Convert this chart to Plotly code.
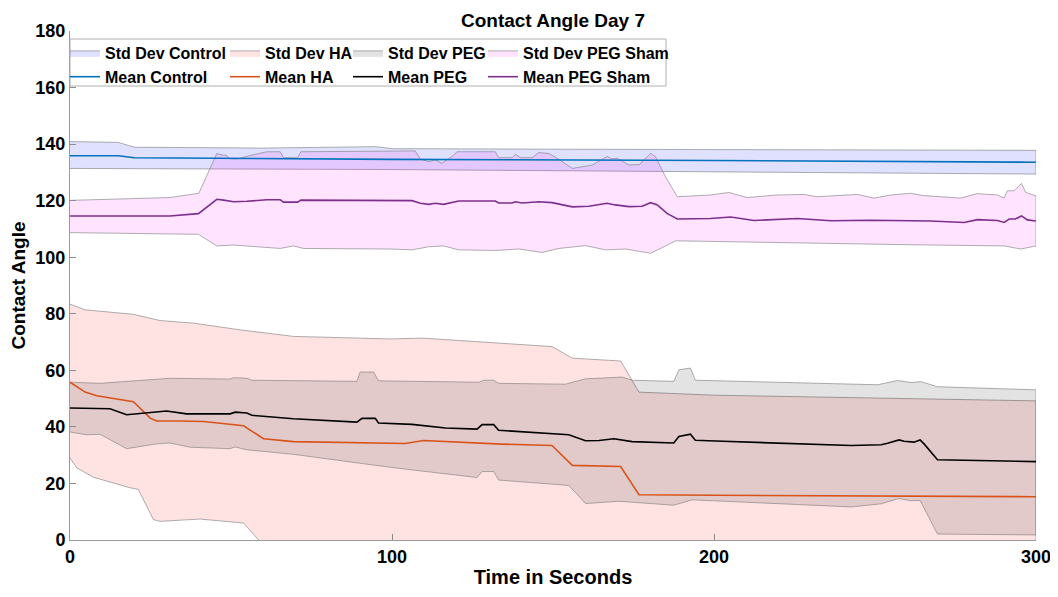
import plotly.graph_objects as go

# ---------------- data ----------------
ctrl_mean_t = [0, 15, 20, 100, 200, 300]
ctrl_mean_v = [135.9, 135.9, 135.2, 134.6, 134.2, 133.6]
ctrl_up_t = [0, 15, 20, 60, 95, 100, 150, 200, 250, 300]
ctrl_up_v = [140.9, 140.6, 138.9, 138.6, 139.1, 138.4, 138.2, 138.0, 137.9, 137.8]
ctrl_lo_t = [0, 100, 150, 200, 250, 300]
ctrl_lo_v = [131.4, 131.0, 130.7, 130.3, 129.8, 129.4]

ha_up_t = [0, 4.7, 19.7, 24.9, 28, 38.3, 52.9, 69.4, 99.5, 109.3, 149.7, 156, 171, 176.7, 200.5, 300]
ha_up_v = [83.4, 81.4, 79.8, 78.4, 77.6, 76.7, 74.3, 72.0, 71.1, 71.4, 68.4, 64.3, 63.3, 52.3, 51.2, 49.2]
ha_mean_t = [0, 4.7, 8.3, 19.7, 24.9, 26.9, 34.2, 41.5, 53.9, 60.1, 69.4, 99.5, 104.1, 109.8,
             134.1, 149.7, 156, 171, 176.7, 200.5, 300]
ha_mean_v = [55.8, 52.3, 51.0, 48.9, 43.1, 42.1, 42.1, 41.9, 40.4, 35.8, 34.8, 34.4, 34.1, 35.2,
             33.9, 33.4, 26.4, 26.0, 16.0, 15.8, 15.3]
ha_lo_t = [0, 2.1, 7.3, 18.6, 21.2, 25.9, 28, 40.4, 53.9, 60.1, 99.5, 149.7, 156, 171, 176.7, 300]
ha_lo_v = [29.0, 25.5, 22.2, 18.5, 17.9, 7.2, 6.6, 7.4, 6.0, -1.9, -2.3, -1.6, -11.5, -11.3, -20.5, -18.6]

peg_up_t = [0, 9.3, 31.1, 49.7, 50.8, 54.9, 56.5, 89.1, 90.1, 94.3, 95.8, 126.9, 128.5, 131.6,
            133.1, 153.8, 160.1, 171.5, 174.6, 187.5, 189.1, 192.7, 194.2, 200.5, 250.8, 252.9,
            257, 261.1, 264.2, 269.4, 300]
peg_up_v = [55.8, 55.4, 57.2, 56.9, 57.4, 57.2, 56.5, 56.1, 59.4, 59.4, 56.3, 55.8, 56.5, 56.5,
            55.4, 55.1, 57.0, 57.6, 56.5, 56.1, 60.2, 60.8, 56.5, 56.3, 54.9, 55.4,
            56.4, 55.7, 56.0, 54.2, 53.1]
peg_mean_t = [0, 12.4, 17.6, 30, 36.2, 49.7, 51.3, 54.9, 56.5, 69.4, 89.1, 90.7, 94.8, 95.8,
              106.2, 116.6, 126.4, 128, 131.6, 133.1, 154.9, 160.1, 164.3, 168.9, 174.6, 187.5,
              189.1, 192.7, 194.2, 200.5, 242.6, 251.9, 253.9, 257.5, 259, 262.1, 264, 265.3,
              269.4, 300]
peg_mean_v = [46.7, 46.4, 44.3, 45.6, 44.6, 44.6, 45.2, 44.9, 44.1, 42.9, 41.7, 43.0, 43.0, 41.4,
              40.9, 39.6, 39.2, 40.8, 40.8, 38.8, 37.2, 35.1, 35.2, 35.8, 34.8, 34.3,
              36.6, 37.4, 35.3, 35.0, 33.4, 33.7, 34.2, 35.4, 34.9, 34.6, 35.4, 33.9,
              28.4, 27.7]
peg_lo_t = [0, 5.2, 9.3, 17.6, 26.9, 31.1, 37.3, 49.7, 51.3, 54.9, 69.4, 99.5, 126.4, 128, 131.6,
            133.1, 154.9, 160.1, 170.5, 187.5, 193.2, 200.5, 242.6, 251.9, 257.5, 261.1, 264,
            269.4, 300]
peg_lo_v = [38.2, 37.2, 37.4, 32.3, 34.0, 34.3, 32.8, 32.3, 32.9, 31.9, 30.3, 25.7, 22.1, 24.2, 24.2,
            21.2, 19.3, 12.9, 13.7, 12.3, 14.2, 13.7, 11.7, 12.8, 14.7, 13.9, 14.0,
            2.1, 1.8]

sham_up_t = [0, 31, 40, 45.6, 47, 48.5, 49.7, 52.3, 54.9, 61.1, 65.3, 66.3, 70.7, 71.7, 107.2, 108.8,
             111.4, 113.5, 115.5, 118.6, 120.2, 132.1, 133.1, 137.3, 138.3, 139.9, 143.5, 145.6,
             148.7, 151.3, 156.0, 159.0, 162.2, 166.8, 168.3, 170, 173.6, 176.8, 180.3, 181.8,
             184.9, 188.6, 198.9, 204.6, 210.3, 219.6, 227.9, 232, 244.5, 249.7, 254.9, 261.1,
             265, 276.6, 281.8, 288, 290.1, 291.1, 293.2, 295.5, 296.8, 300]
sham_up_v = [120.1, 121.1, 122.6, 136.7, 136.2, 136.0, 134.8, 134.8, 135.7, 137.3, 137.3, 135.2, 135.2,
             137.3, 137.6, 134.7, 133.8, 134.4, 133.2, 135.6, 137.3, 137.3, 135.2, 135.2, 136.4,
             135.2, 135.2, 137.0, 136.7, 135.0, 131.4, 132.0, 132.6, 135.6, 134.8, 135.0, 132.6,
             132.8, 136.7, 135.6, 128.5, 121.4, 122.0, 122.9, 121.1, 122.0, 122.2, 121.4, 122.2,
             120.9, 122.0, 122.6, 121.8, 120.9, 122.5, 122.0, 120.9, 123.5, 123.5, 126.1, 122.9,
             121.7]
sham_mean_t = [0, 31, 39.9, 45.6, 47.7, 50.8, 54.9, 61.1, 65.3, 66.3, 70.7, 71.7, 106.2, 108.8,
               111.4, 113.5, 116, 120.7, 132.1, 133.1, 137.3, 138.3, 140.4, 145.6, 149.7, 156.0,
               161.1, 166.8, 169.3, 173.6, 177.7, 180.3, 182.4, 185.4, 188.6, 198.9, 205.2, 212.4,
               225.9, 236.3, 248.7, 261.1, 267.3, 277.7, 281.8, 288, 290.1, 291.7, 293.6, 295.5,
               297.3, 300]
sham_mean_v = [114.6, 114.6, 115.4, 120.5, 120.2, 119.6, 119.8, 120.3, 120.3, 119.5, 119.5, 120.2,
               120.0, 119.1, 118.7, 119.1, 118.7, 119.9, 119.9, 119.2, 119.2, 119.6, 119.2, 119.6,
               119.3, 117.8, 118.0, 119.1, 118.5, 117.9, 118.0, 119.3, 118.5, 115.5, 113.5, 113.7,
               114.2, 113.0, 113.7, 112.9, 113.1, 113.0, 112.8, 112.3, 113.3, 113.0, 112.3, 113.5,
               113.5, 114.6, 113.2, 112.8]
sham_lo_t = [0, 39.9, 45.6, 50.8, 59.1, 65.3, 69.4, 72.5, 99.5, 106.2, 111.4, 116, 120.7, 132.1,
             139.5, 146.6, 151.8, 160.1, 166.3, 172.5, 180.3, 183.9, 188.1, 200.5, 230, 261.1,
             290.1, 295.3, 300]
sham_lo_v = [108.7, 108.1, 104.0, 104.3, 103.7, 103.1, 104.0, 103.1, 102.9, 102.6, 103.7, 104.0,
             102.6, 102.4, 102.9, 101.7, 103.1, 104.1, 102.6, 102.9, 101.4, 103.4, 105.8, 105.8,
             105.0, 104.4, 104.0, 102.9, 104.0]

x_ticks = [0, 100, 200, 300]
y_ticks = [0, 20, 40, 60, 80, 100, 120, 140, 160, 180]

FONT = "Liberation Sans, Arial, Helvetica, sans-serif"
EDGE = "rgba(120,120,120,0.75)"

bands = [
    ("Std Dev Control", ctrl_up_t, ctrl_up_v, ctrl_lo_t, ctrl_lo_v, "rgba(0,0,255,0.12)", "legend"),
    ("Std Dev HA", ha_up_t, ha_up_v, ha_lo_t, ha_lo_v, "rgba(255,0,0,0.11)", "legend2"),
    ("Std Dev PEG", peg_up_t, peg_up_v, peg_lo_t, peg_lo_v, "rgba(0,0,0,0.11)", "legend3"),
    ("Std Dev PEG Sham", sham_up_t, sham_up_v, sham_lo_t, sham_lo_v, "rgba(255,0,255,0.11)", "legend4"),
]
means = [
    ("Mean Control", ctrl_mean_t, ctrl_mean_v, "#0072BD", "legend"),
    ("Mean HA", ha_mean_t, ha_mean_v, "#D95319", "legend2"),
    ("Mean PEG", peg_mean_t, peg_mean_v, "#000000", "legend3"),
    ("Mean PEG Sham", sham_mean_t, sham_mean_v, "#7E2F8E", "legend4"),
]

fig = go.Figure()
for name, ut, uv, lt, lv, col, lg in bands:
    fig.add_trace(go.Scatter(
        x=list(ut) + list(lt)[::-1], y=list(uv) + list(lv)[::-1],
        mode="lines", fill="toself", fillcolor=col,
        line=dict(color=EDGE, width=0.8), name=name, legend=lg, hoverinfo="skip"))
for name, t, v, col, lg in means:
    fig.add_trace(go.Scatter(x=t, y=v, mode="lines", line=dict(color=col, width=1.6),
                             name=name, legend=lg))

# the page body adds an 8px offset; figure coordinates below are screen - 8
W, H = 1050, 589
L, R, T, B = 62, 22, 23, 57
pw, ph = W - L - R, H - T - B

def px2x(px):
    return (px - L) / pw

def py2y(py):
    return (H - B - py) / ph

legfont = dict(family=FONT, size=16, color="black", weight="bold")
leg_common = dict(font=legfont, bgcolor="rgba(0,0,0,0)", borderwidth=0,
                  orientation="v", xanchor="left", yanchor="top", itemwidth=30,
                  tracegroupgap=0, traceorder="normal")
col_px = [57, 217, 340, 475]
layout_legs = {}
for i, cx in enumerate(col_px):
    key = "legend" if i == 0 else f"legend{i + 1}"
    layout_legs[key] = dict(x=px2x(cx), y=py2y(28), **leg_common)

fig.update_layout(
    width=W, height=H,
    margin=dict(l=L, r=R, t=T, b=B),
    paper_bgcolor="white", plot_bgcolor="white",
    showlegend=True,
    title=dict(text="Contact Angle Day 7", x=(L + pw / 2) / W, xanchor="center",
               y=1 - 12 / H, yanchor="middle",
               font=dict(family=FONT, size=19, color="black", weight="bold")),
    xaxis=dict(range=[0, 300], tickvals=x_ticks, ticks="inside", ticklen=6, tickcolor="#8c8c8c",
               showline=True, linecolor="#9a9a9a", linewidth=1, showgrid=False, zeroline=False,
               automargin=False,
               tickfont=dict(family=FONT, size=18, color="black", weight="bold"),
               title=dict(text="Time in Seconds", standoff=4,
                          font=dict(family=FONT, size=20, color="black", weight="bold"))),
    yaxis=dict(range=[0, 180], tickvals=y_ticks, ticks="inside", ticklen=6, tickcolor="#8c8c8c",
               showline=True, linecolor="#9a9a9a", linewidth=1, showgrid=False, zeroline=False,
               automargin=False,
               tickfont=dict(family=FONT, size=18, color="black", weight="bold"),
               title=dict(text="Contact Angle", standoff=6,
                          font=dict(family=FONT, size=19, color="black", weight="bold"))),
    shapes=[dict(type="rect", xref="paper", yref="paper",
                 x0=px2x(62), x1=px2x(658), y0=py2y(78), y1=py2y(31),
                 line=dict(color="#b0b0b0", width=1), fillcolor="rgba(255,255,255,0.85)",
                 layer="above")],
    **layout_legs,
)

fig.write_html("out.html")
